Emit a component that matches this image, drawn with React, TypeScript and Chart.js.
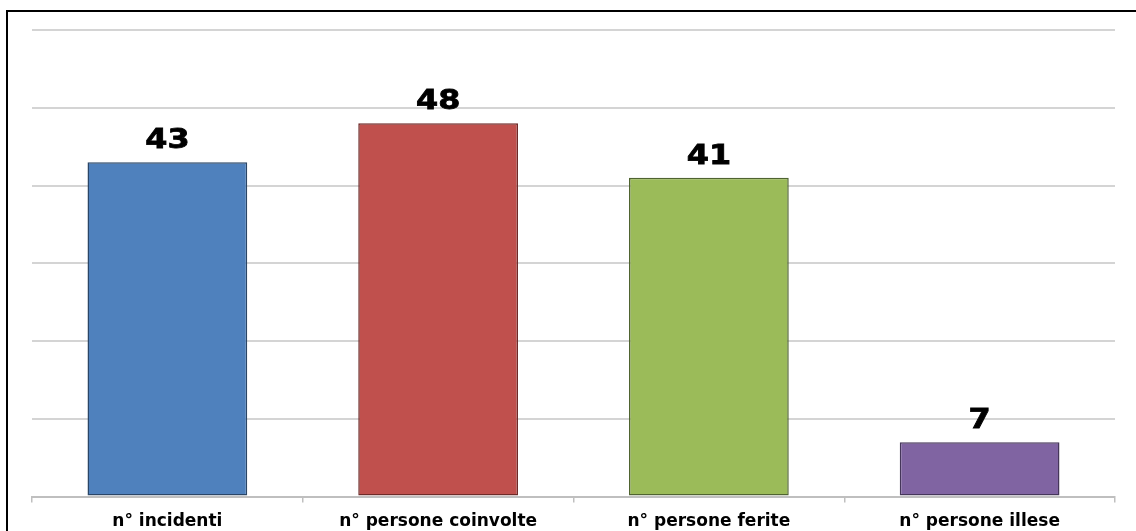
import React, { useEffect, useRef } from "react";
import { Chart, registerables } from "chart.js";

Chart.register(...registerables);

const categories = ["n° incidenti", "n° persone coinvolte", "n° persone ferite", "n° persone illese"];
const values = [43, 48, 41, 7];
const barColors = ["#4F81BD", "#C0504D", "#9BBB59", "#8064A2"];
const barBorders = ["#2A4566", "#6E2A28", "#4F6330", "#45365A"];
const yTicks = [0, 10, 20, 30, 40, 50, 60];

const valueLabels = {
  id: "valueLabels",
  afterDatasetsDraw(chart: any) {
    const ctx = chart.ctx;
    const meta = chart.getDatasetMeta(0);
    meta.data.forEach((bar: any, i: number) => {
      ctx.save();
      ctx.fillStyle = "#000";
      ctx.strokeStyle = "#000";
      ctx.lineWidth = 0.8;
      ctx.font = "bold 27px 'DejaVu Sans', Verdana, sans-serif";
      ctx.textAlign = "center";
      ctx.textBaseline = "alphabetic";
      ctx.translate(bar.x, bar.y - 14);
      ctx.scale(1.18, 1);
      ctx.fillText(String(values[i]), 0, 0);
      ctx.strokeText(String(values[i]), 0, 0);
      ctx.restore();
    });
  },
};

export default function App() {
  const ref = useRef<HTMLCanvasElement>(null);
  useEffect(() => {
    if (!ref.current) return;
    const chart = new Chart(ref.current, {
      type: "bar",
      data: {
        labels: categories,
        datasets: [
          {
            data: values,
            backgroundColor: barColors,
            borderColor: barBorders,
            borderWidth: 1.5,
            borderSkipped: false,
            categoryPercentage: 1,
            barPercentage: 0.59,
          },
        ],
      },
      options: {
        animation: false,
        responsive: false,
        maintainAspectRatio: false,
        layout: { padding: { left: 32, right: 21, top: 30, bottom: 0 } },
        plugins: { legend: { display: false }, tooltip: { enabled: false } },
        scales: {
          x: {
            grid: {
              offset: true,
              drawOnChartArea: false,
              drawTicks: true,
              tickLength: 6,
              color: "#BFBFBF",
              lineWidth: 1.5,
            },
            border: { display: true, color: "#BFBFBF", width: 2 },
            ticks: {
              color: "#000",
              padding: 9,
              font: { family: "'DejaVu Sans', Verdana, sans-serif", size: 17, weight: "bold" },
            },
          },
          y: {
            min: 0,
            max: 60,
            afterBuildTicks: (axis: any) => {
              axis.ticks = yTicks.map((v) => ({ value: v }));
            },
            ticks: { display: false },
            grid: { color: "#D4D4D4", lineWidth: 2, drawTicks: false },
            border: { display: false },
          },
        },
      },
      plugins: [valueLabels],
    });
    return () => chart.destroy();
  }, []);
  return (
    <div style={{ position: "fixed", left: 0, top: 0, width: 1136, height: 531, overflow: "hidden", background: "#fff" }}>
      <div
        style={{
          position: "absolute",
          left: 6,
          top: 10,
          width: 1300,
          height: 700,
          border: "2px solid #000",
          boxSizing: "border-box",
        }}
      />
      <canvas ref={ref} width={1136} height={541} style={{ position: "absolute", left: 0, top: 0 }} />
    </div>
  );
}
